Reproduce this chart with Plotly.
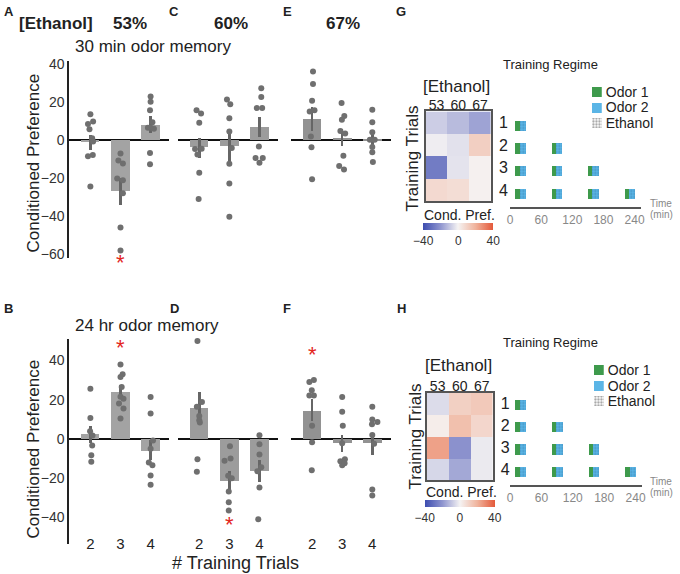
import plotly.graph_objects as go

W, H = 680, 574

# number of training trials on the x axis of every bar panel
trials = [2, 3, 4]

# 30 min odor memory: bar means and error-bar ends, per ethanol concentration
mean_30_53 = [-1.2, -27.0, 8.0]
low_30_53 = [-5.0, -34.2, 3.7]
high_30_53 = [2.8, -20.0, 12.9]
mean_30_60 = [-3.8, -3.3, 6.8]
low_30_60 = [-9.4, -11.6, 1.5]
high_30_60 = [1.0, 4.5, 12.1]
mean_30_67 = [11.3, 1.0, -0.6]
low_30_67 = [4.8, -3.3, -4.0]
high_30_67 = [17.5, 5.7, 3.5]

# 24 hr odor memory
mean_24_53 = [2.2, 23.8, -6.2]
low_24_53 = [-2.0, 20.1, -10.9]
high_24_53 = [6.7, 27.3, -0.8]
mean_24_60 = [15.6, -21.4, -16.4]
low_24_60 = [8.4, -27.1, -21.8]
high_24_60 = [24.0, -16.5, -10.9]
mean_24_67 = [14.2, -2.2, -2.2]
low_24_67 = [8.9, -6.7, -8.4]
high_24_67 = [20.1, 2.0, 2.0]

# individual experiments (values) and their small horizontal spread (in trial units)
pts_30_53 = [[13.7, 9.9, 8.5, 5.7, 1.0, -0.7, -7.8, -8.5, -24.5],
             [-7.1, -10.8, -12.3, -20.3, -21.2, -28.1, -46.2, -58.3],
             [23.0, 20.3, 15.8, 9.5, 6.5, 6.5, 6.0, -6.8, -12.8]]
jit_30_53 = [[0, 0.09, -0.08, -0.03, 0.06, 0.09, 0.08, -0.08, 0],
             [0, -0.07, 0.08, -0.11, 0.08, 0.08, 0, 0],
             [0, 0, -0.02, 0.06, -0.09, 0, 0.11, -0.02, -0.02]]
pts_30_60 = [[15.8, 14.1, 9.2, -4.7, -4.5, -7.6, -17.2, -31.1],
             [21.5, 18.9, 11.5, 4.5, -4.2, -12.5, -22.9, -40.5],
             [27.4, 22.8, 17.0, 17.0, -3.3, -9.4, -9.4, -12.0]]
jit_30_60 = [[-0.09, 0.06, 0, -0.14, 0.08, -0.06, 0, -0.02],
             [-0.08, 0.03, 0, 0, 0.08, 0, 0, 0],
             [0.06, 0.06, -0.09, 0.09, -0.02, -0.13, 0.11, 0]]
pts_30_67 = [[36.3, 29.7, 20.8, 15.1, 15.8, 1.9, -3.8, -20.7],
             [19.6, 12.7, 10.8, 4.8, 3.5, -8.2, -13.7, -15.5],
             [16.1, 9.5, 4.2, 0.2, 0.2, -3.6, -6.4, -11.6]]
jit_30_67 = [[0.03, 0.03, 0, -0.08, 0.08, -0.04, -0.02, 0],
             [-0.02, 0.07, -0.01, -0.06, 0.1, 0.04, -0.1, 0.06],
             [0, 0, 0, -0.08, 0.08, 0, 0, 0.02]]
pts_24_53 = [[25.6, 10.6, 3.9, 1.7, -3.4, -8.4, -11.7],
             [38.0, 33.0, 31.5, 26.5, 21.5, 20.5, 18.0, 15.5, 10.4],
             [21.4, 12.9, -0.8, -5.0, -12.0, -13.4, -18.7, -23.4]]
jit_24_53 = [[0, 0, -0.01, 0.07, 0.06, 0.03, 0.03],
             [0, 0.07, 0, 0.04, 0, 0.1, -0.05, 0.1, 0],
             [0, 0, 0.08, 0, -0.06, 0.06, 0, 0]]
pts_24_60 = [[49.9, 51.1, 18.8, 16.4, 11.7, 9.5, 8.4, -10.4, -16.8],
             [-3.7, -11.2, -10.0, -18.8, -20.1, -26.8, -32.3, -36.5],
             [1.9, -2.7, -7.9, -14.5, -16.5, -24.8, -41.0]]
jit_24_60 = [[-0.06, 0.11, 0.09, -0.08, 0, 0, 0.02, -0.06, -0.08],
             [0.02, -0.16, 0.04, -0.04, 0.08, -0.02, -0.02, -0.02],
             [0, 0, 0, 0.06, -0.07, 0, -0.04]]
pts_24_67 = [[30.0, 29.0, 24.8, 22.1, 22.1, 6.7, -1.7, -16.0],
             [21.4, 13.9, 6.7, -2.2, -11.4, -10.4, -13.4, -12.4],
             [16.4, 9.9, 8.6, 7.5, 2.0, -2.5, -25.8, -28.9]]
jit_24_67 = [[0.06, -0.09, -0.01, -0.09, 0.06, 0, 0, -0.01],
             [0, 0, 0.02, 0, -0.06, 0.09, 0, 0.08],
             [0, 0, 0.17, -0.01, 0, 0.06, 0, 0]]

# significant groups: (memory, concentration, trials, y position of the star)
stars = [('30', '53', 3, -64.5), ('24', '53', 3, 46.7),
         ('24', '60', 3, -43.7), ('24', '67', 2, 43.2)]

# heatmaps: mean conditioned preference, rows = training trials 1-4
conc = [53, 60, 67]
trial_rows = [1, 2, 3, 4]
heat_30 = [[-8, -12, -17],
           [-1.2, -3.8, 11.3],
           [-27, -3.3, 1.0],
           [8.0, 6.8, 1.0]]
heat_24 = [[-5, 11, 13],
           [2, 16, 9],
           [24, -21, -2],
           [-6, -16, -2]]

# training regime timing (min)
block_start = [10, 80, 150, 220]
odor1_len = 8
odor2_len = 12
time_ticks = [0, 60, 120, 180, 240]
key_names = ['Odor 1', 'Odor 2', 'Ethanol']

FONT = "Liberation Sans"
TXT = "#222222"
GREEN, BLUE = '#3e9a4c', '#5bb5e6'


def xd(a, b):
    return [a / W, b / W]


def yd(top, bottom):
    return [1 - bottom / H, 1 - top / H]


fig = go.Figure()
lay = dict()
ann = []

panels = [
    # axis no, x px, y px, mean, low, high, pts, jitter, bar colour, first column
    (1, (67, 168), (57, 257), mean_30_53, low_30_53, high_30_53, pts_30_53, jit_30_53, '#a3a3a3', True),
    (2, (177, 278), (57, 257), mean_30_60, low_30_60, high_30_60, pts_30_60, jit_30_60, '#9c9c9c', False),
    (3, (291, 392), (57, 257), mean_30_67, low_30_67, high_30_67, pts_30_67, jit_30_67, '#929292', False),
    (4, (67, 168), (339, 547), mean_24_53, low_24_53, high_24_53, pts_24_53, jit_24_53, '#a3a3a3', True),
    (5, (177, 278), (339, 547), mean_24_60, low_24_60, high_24_60, pts_24_60, jit_24_60, '#9c9c9c', False),
    (6, (291, 392), (339, 547), mean_24_67, low_24_67, high_24_67, pts_24_67, jit_24_67, '#929292', False),
]
yranges = {}

for n, xp, yp, mean, low, high, pts, jit, col, first in panels:
    xa, ya = 'x%d' % n, 'y%d' % n
    top = n <= 3
    yr = [-62.5, 41.7] if top else [-53.8, 50.8]
    yranges[n] = (yr, yp)
    fig.add_trace(go.Bar(
        x=trials, y=mean, width=0.62, marker=dict(color=col, line=dict(width=0)),
        error_y=dict(type='data', symmetric=False,
                     array=[h - m for h, m in zip(high, mean)],
                     arrayminus=[m - l for m, l in zip(mean, low)],
                     color='#666666', thickness=2.5, width=0),
        xaxis=xa, yaxis=ya, showlegend=False))
    xs, ys = [], []
    for t, vals, offs in zip(trials, pts, jit):
        for v, o in zip(vals, offs):
            xs.append(t + o)
            ys.append(v)
    fig.add_trace(go.Scatter(
        x=xs, y=ys, mode='markers', marker=dict(size=6, color='#6f6f6f'),
        xaxis=xa, yaxis=ya, showlegend=False, cliponaxis=False))
    lay['xaxis%d' % n] = dict(
        domain=xd(*xp), anchor=ya, range=[1.3, 4.62], showgrid=False, zeroline=False,
        showline=False, tickvals=trials if not top else [], ticks='',
        ticklabelposition='inside', ticklabelstandoff=-11, tickfont=dict(size=15, color=TXT))
    lay['yaxis%d' % n] = dict(
        domain=yd(*yp), anchor=xa, range=yr,
        showgrid=False, zeroline=True, zerolinecolor='#111111', zerolinewidth=2,
        showline=first, linecolor='#222222', linewidth=2, ticks='',
        showticklabels=first, tickvals=[40, 20, 0, -20, -40, -60],
        tickfont=dict(size=14, color='#333333'))

# significance stars: x on the panel's trial axis, y mapped onto the page
ax_of = {('30', '53'): 1, ('30', '60'): 2, ('30', '67'): 3,
         ('24', '53'): 4, ('24', '60'): 5, ('24', '67'): 6}
for mem, c, t, yv in stars:
    n = ax_of[(mem, c)]
    (y0, y1), (ptop, pbot) = yranges[n]
    ypx = pbot - (yv - y0) / (y1 - y0) * (pbot - ptop)
    ann.append(dict(x=t, y=1 - ypx / H, xref='x%d' % n, yref='paper', text='*',
                    showarrow=False, yanchor='middle',
                    font=dict(size=22, color='#e3261f', family=FONT)))

# heatmaps
cscale = [[0, '#3d4db0'], [0.25, '#8f95cf'], [0.5, '#f5f3f3'], [0.75, '#f0b39c'], [1, '#e4593a']]
heats = [(7, heat_30, (427, 493), (108, 199), 221), (8, heat_24, (428, 495), (393, 482), 502)]
for n, z, xp, yp, cb_top in heats:
    xa, ya = 'x%d' % n, 'y%d' % n
    fig.add_trace(go.Heatmap(
        z=z, x=conc, y=trial_rows, zmin=-40, zmax=40, colorscale=cscale,
        xaxis=xa, yaxis=ya, hoverinfo='skip',
        colorbar=dict(orientation='h', x=(xp[0] + xp[1]) / 2 / W, xanchor='center',
                      y=1 - cb_top / H, yanchor='top', len=70, lenmode='pixels',
                      thickness=7, thicknessmode='pixels', tickvals=[-40, 0, 40],
                      ticks='', outlinewidth=0, xpad=0, ypad=0,
                      tickfont=dict(size=12, color='#333333'))))
    lay['xaxis%d' % n] = dict(
        domain=xd(*xp), anchor=ya, side='top', tickvals=conc, ticks='', range=[49.5, 70.5],
        showgrid=False, zeroline=False, showline=True, mirror=True, ticklabelstandoff=-6,
        linecolor='#555555', linewidth=1.5, tickfont=dict(size=14, color=TXT))
    lay['yaxis%d' % n] = dict(
        domain=yd(*yp), anchor=xa, side='right', tickvals=trial_rows, ticks='',
        range=[4.5, 0.5], showgrid=False, zeroline=False, showline=True, mirror=True,
        linecolor='#555555', linewidth=1.5, tickfont=dict(size=16, color=TXT), ticklabelstandoff=3)

# training regime timelines, with their key drawn as a tiny bar chart
regimes = [(9, (512, 645), (108, 205), [4.57, 0.35], 11, (595, 605), (80, 128)),
           (10, (512, 646), (393, 487), [4.62, 0.47], 12, (597, 607), (362, 410))]
for n, xp, yp, yr, k, kx, ky in regimes:
    xa, ya = 'x%d' % n, 'y%d' % n
    rows, starts = [], []
    for r in trial_rows:
        for s in block_start[:r]:
            rows.append(r)
            starts.append(s)
    fig.add_trace(go.Bar(
        orientation='h', y=rows, x=[odor1_len] * len(rows), base=starts, width=0.45,
        marker=dict(color=GREEN, line=dict(width=0)), name='Odor 1',
        xaxis=xa, yaxis=ya, showlegend=False, hoverinfo='skip'))
    fig.add_trace(go.Bar(
        orientation='h', y=rows, x=[odor2_len] * len(rows),
        base=[s + odor1_len for s in starts], width=0.45,
        marker=dict(color=BLUE, line=dict(width=0),
                    pattern=dict(shape='.', fgcolor='#2b6d9c', size=3, solidity=0.35)),
        name='Odor 2', showlegend=False, xaxis=xa, yaxis=ya, hoverinfo='skip'))
    lay['xaxis%d' % n] = dict(
        domain=xd(*xp), anchor=ya, range=[-0.5, 253], tickvals=time_ticks, ticks='',
        showgrid=False, zeroline=False, showline=True, linecolor='#555555', linewidth=2,
        tickfont=dict(size=12, color='#888888'))
    lay['yaxis%d' % n] = dict(
        domain=yd(*yp), anchor=xa, range=yr, visible=False)

    kxa, kya = 'x%d' % k, 'y%d' % k
    fig.add_trace(go.Bar(
        orientation='h', y=[0, 1, 2], x=[1, 1, 1], width=0.64,
        marker=dict(color=[GREEN, BLUE, 'white'], line=dict(width=0),
                    pattern=dict(shape=['', '', '.'], fgcolor='#9a9a9a', size=3, solidity=0.45)),
        xaxis=kxa, yaxis=kya, showlegend=False, hoverinfo='skip'))
    lay['xaxis%d' % k] = dict(domain=xd(*kx), anchor=kya, range=[0, 1], visible=False)
    lay['yaxis%d' % k] = dict(
        domain=yd(*ky), anchor=kxa, range=[2.5, -0.5], side='right', tickvals=[0, 1, 2],
        ticktext=key_names, ticks='', showgrid=False, zeroline=False, showline=False,
        ticklabelstandoff=3, tickfont=dict(size=14, color=TXT))


def txt(x, y, s, size, bold=False, color=TXT, angle=0):
    if bold:
        s = '<b>' + s + '</b>'
    ann.append(dict(x=x / W, y=1 - y / H, xref='paper', yref='paper', text=s,
                    showarrow=False, xanchor='center', yanchor='middle', textangle=angle,
                    font=dict(size=size, color=color, family=FONT)))


for letter, x, y in [('A', 6, 7), ('C', 173, 7), ('E', 287, 7), ('G', 402, 7),
                     ('B', 6, 308), ('D', 173, 308), ('F', 287, 308), ('H', 403, 308)]:
    txt(x, y, letter, 13, bold=True)
txt(54, 19, '[Ethanol]', 17, bold=True)
txt(128, 19, '53%', 17, bold=True)
txt(230, 19, '60%', 17, bold=True)
txt(344, 19, '67%', 17, bold=True)
txt(152, 42, '30 min odor memory', 17)
txt(145, 325, '24 hr odor memory', 17)
txt(31, 160, 'Conditioned Preference', 17, angle=-90)
txt(31, 450, 'Conditioned Preference', 17, angle=-90)
txt(235, 566, '# Training Trials', 18)
for cx, ey, ty, rx, ry, tmy, cpy in [(458, 83, 60, 414, 156, 201, 213),
                                     (460, 366, 342, 417, 438, 483, 494)]:
    txt(cx, ey, '[Ethanol]', 17)
    txt(rx, ry, 'Training Trials', 17, angle=-90)
    txt(553, ty, 'Training Regime', 13)
    txt(665, tmy, 'Time', 10, color='#888888')
    txt(665, tmy + 11, '(min)', 10, color='#888888')
    txt(cx + 3, cpy, 'Cond. Pref.', 14)

lay.update(
    width=W, height=H, margin=dict(l=0, r=0, t=0, b=0),
    paper_bgcolor='white', plot_bgcolor='rgba(0,0,0,0)',
    font=dict(family=FONT, color=TXT), barmode='overlay', bargap=0,
    annotations=ann, showlegend=False,
)
fig.update_layout(**lay)
fig.write_html("out.html", config={'displayModeBar': False},
               post_script="document.body.style.margin='0';")
